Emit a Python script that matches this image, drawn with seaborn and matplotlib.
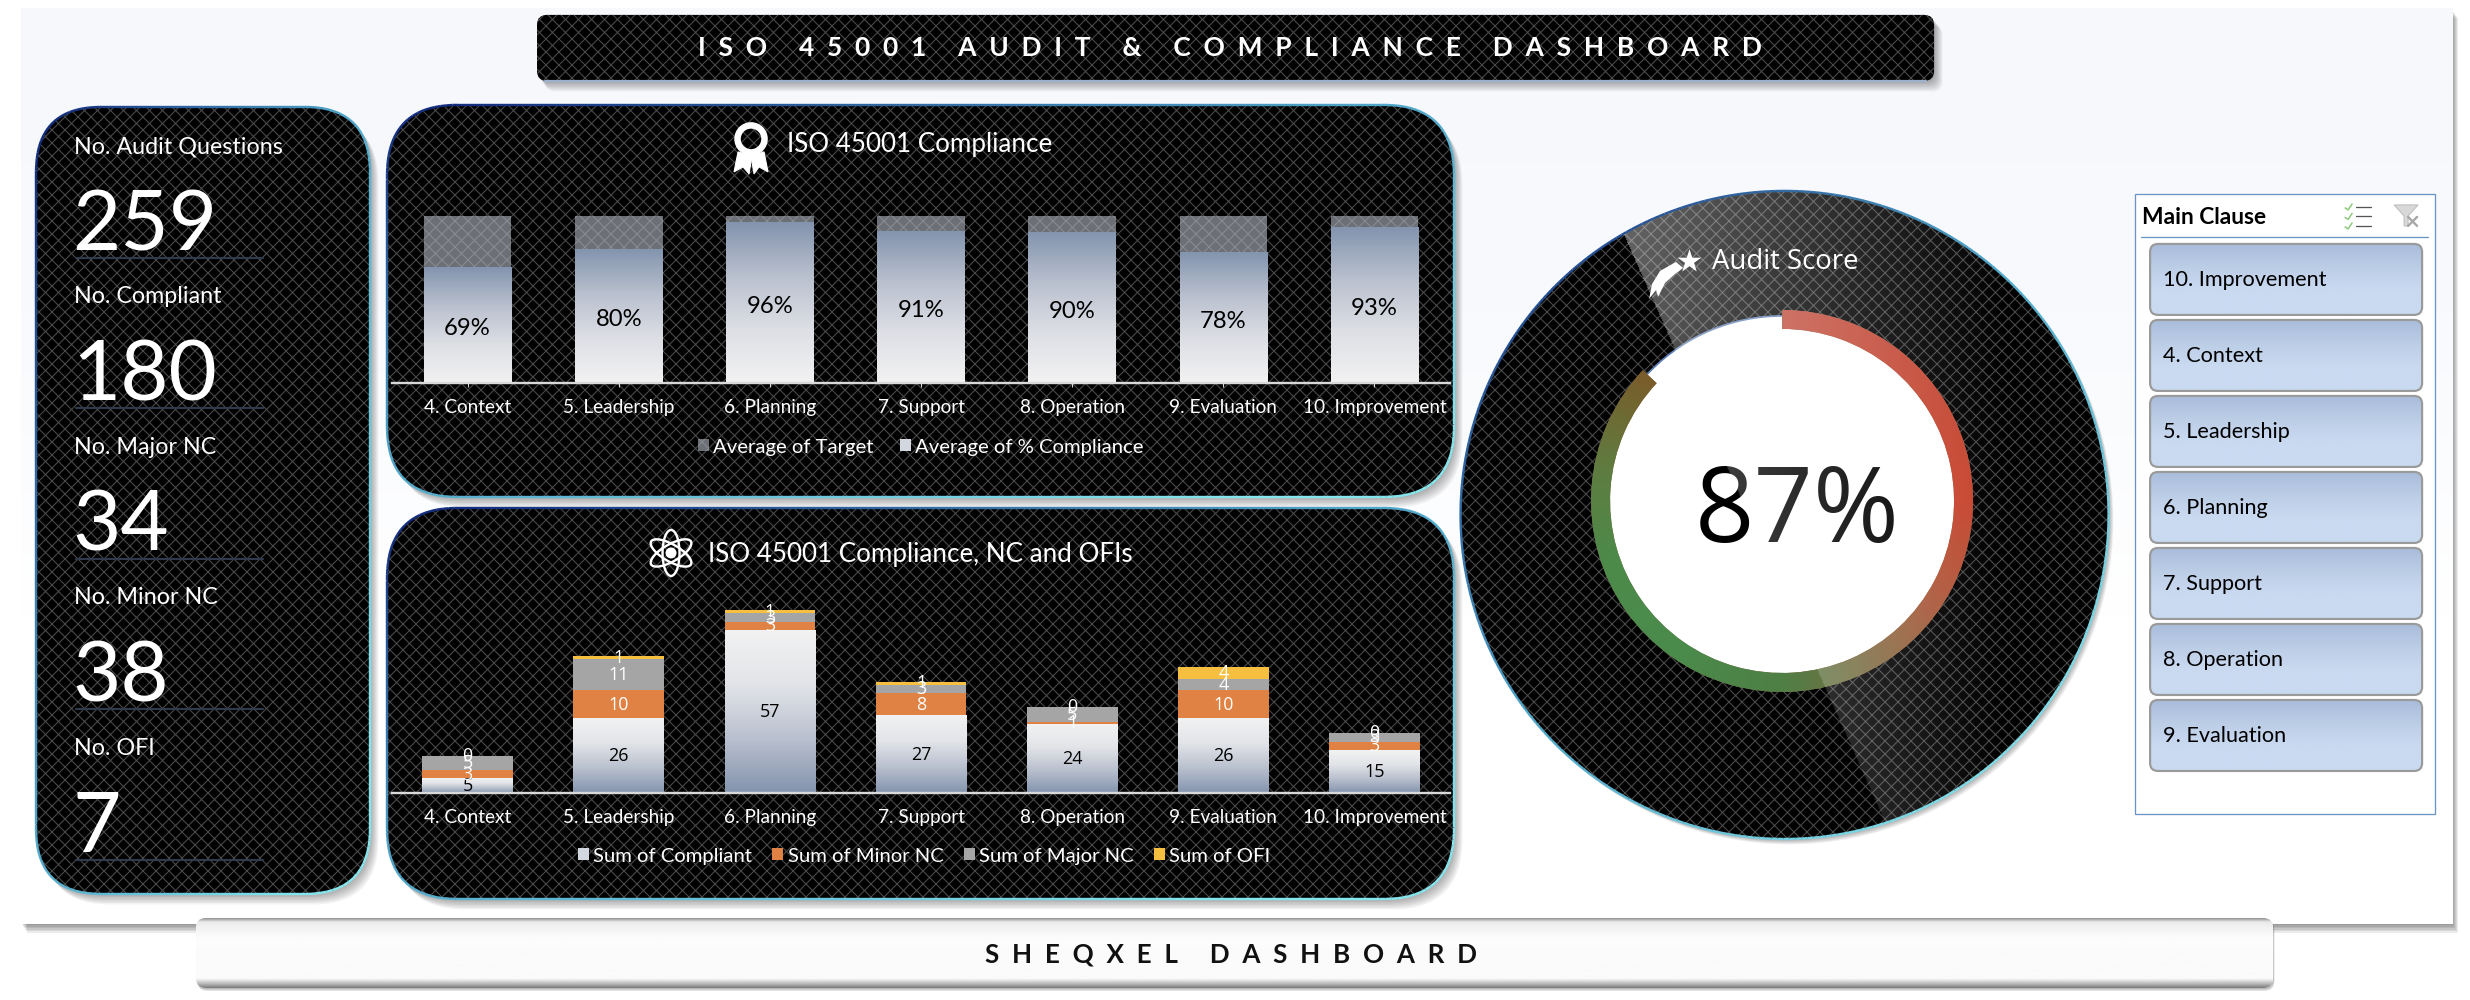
import numpy as np
import matplotlib
matplotlib.use("Agg")
import matplotlib.pyplot as plt
import seaborn as sns
from matplotlib.patches import FancyBboxPatch, Circle, Ellipse, Polygon, Rectangle
from matplotlib.collections import LineCollection
from matplotlib.colors import LinearSegmentedColormap, to_rgb

# ---------- data ----------
categories = ["4. Context", "5. Leadership", "6. Planning", "7. Support",
              "8. Operation", "9. Evaluation", "10. Improvement"]
target = [1, 1, 1, 1, 1, 1, 1]
pct_compliance = [0.69, 0.80, 0.96, 0.91, 0.90, 0.78, 0.93]
compliant = [5, 26, 57, 27, 24, 26, 15]
minor_nc = [3, 10, 3, 8, 1, 10, 3]
major_nc = [5, 11, 3, 3, 5, 4, 3]
ofi = [0, 1, 1, 1, 0, 4, 0]
kpi_labels = ["No. Audit Questions", "No. Compliant", "No. Major NC", "No. Minor NC", "No. OFI"]
kpi_values = ["259", "180", "34", "38", "7"]
slicer_items = ["10. Improvement", "4. Context", "5. Leadership", "6. Planning",
                "7. Support", "8. Operation", "9. Evaluation"]
audit_score = [87, 13]

W, H, DPI = 2470, 1000, 78
sns.set_theme(style="white")
plt.rcParams["font.family"] = ["Lato", "DejaVu Sans"]
plt.rcParams["hatch.linewidth"] = 1.0
HATCH = "#4A4A4A"

fig = plt.figure(figsize=((W + .1) / DPI, (H + .1) / DPI), dpi=DPI, facecolor="white")


def px_axes(x0, y0, x1, y1, z):
    ax = fig.add_axes([x0 / W, 1 - y1 / H, (x1 - x0) / W, (y1 - y0) / H], zorder=z)
    ax.patch.set_alpha(0)
    return ax


bg = px_axes(0, 0, W, H, 0)
bg.set_axis_off()


def vgrad(ax, x0, y0, x1, y1, cols, z, clip=None):
    cm = LinearSegmentedColormap.from_list("g", cols)
    im = ax.imshow(np.linspace(0, 1, 256)[:, None], extent=[x0, x1, y1, y0], origin="upper",
                   cmap=cm, aspect="auto", zorder=z, interpolation="bilinear")
    if clip is not None:
        im.set_clip_path(clip)
    return im


def shadow(make, n=7, dx=1.2, dy=1.5, a=0.05, z=1):
    for i in range(n):
        p = make((i + 1) * dx, (i + 1) * dy)
        p.set(fc="black", ec="none", alpha=a, zorder=z)
        bg.add_patch(p)


def edge_gradient(pts, x0, y0, w, h, z, lw=2.4):
    seg = np.hypot(*np.diff(pts, axis=0).T)
    s = np.r_[0, np.cumsum(seg)]
    t = np.r_[np.arange(0, s[-1], 6.0), s[-1]]
    px, py = np.interp(t, s, pts[:, 0]), np.interp(t, s, pts[:, 1])
    P = np.c_[px, py]
    segs = np.stack([P[:-1], P[1:]], axis=1)
    f = 0.55 * (px[:-1] - x0) / w + 0.55 * (py[:-1] - y0) / h
    c0, c1, c2 = np.array(to_rgb("#0E2478")), np.array(to_rgb("#4FA5C8")), np.array(to_rgb("#86E6EE"))
    cols = [c0 + (c1 - c0) * min(v / .5, 1) if v < .5 else c1 + (c2 - c1) * min((v - .5) / .5, 1) for v in f]
    bg.add_collection(LineCollection(segs, colors=cols, linewidths=lw * 72 / DPI, zorder=z))


def panel(x0, y0, x1, y1, r, border=True):
    w, h = x1 - x0, y1 - y0
    style = f"round,pad=0,rounding_size={r}"
    shadow(lambda dx, dy: FancyBboxPatch((x0 + dx, y0 + dy), w, h, boxstyle=style), z=2)
    p = FancyBboxPatch((x0, y0), w, h, boxstyle=style, fc="black", ec=HATCH, lw=0, hatch="xx", zorder=3)
    bg.add_patch(p)
    if border:
        poly = p.get_path().to_polygons(closed_only=True)[0]
        edge_gradient(poly, x0, y0, w, h, 4)
    return p


# ---------- page ----------
shadow(lambda dx, dy: Rectangle((21 + dx, 9 + dy), 2431, 915), n=6, dx=1, dy=1.5, a=.08, z=.5)
vgrad(bg, 21, 9, 2452, 924, ["#F6F8FC", "#F8FAFD", "#FFFFFF", "#FFFFFF"], 1)

# title bar
panel(537, 15, 1934, 81, 10, border=False)
bg.plot([545, 1926], [81.5, 81.5], color="#9DB0CC", lw=2, zorder=4)
bg.text(1230, 48, "  ".join("ISO") + "     " + "  ".join("45001") + "     " + "  ".join("AUDIT") + "     &     "
        + "  ".join("COMPLIANCE") + "     " + "  ".join("DASHBOARD"),
        color="white", fontsize=24.4, fontweight="bold", ha="center", va="center", zorder=6)

# bottom bar
shadow(lambda dx, dy: FancyBboxPatch((196 + dx, 918 + dy), 2077, 70, boxstyle="round,pad=0,rounding_size=10"),
       n=3, dx=.5, dy=1, a=.1, z=2)
bb = FancyBboxPatch((196, 918), 2077, 70, boxstyle="round,pad=0,rounding_size=10", fc="#F2F2F2", ec="none", zorder=3)
bg.add_patch(bb)
vgrad(bg, 196, 918, 2273, 988, ["#7A7A7A", "#E9E9E9", "#F2F2F2", "#F6F6F6", "#FBFBFB", "#FDFDFD", "#FDFDFD", "#FBFBFB",
                                "#FBFBFB", "#FBFBFB", "#FBFBFB", "#FBFBFB", "#FBFBFB", "#FBFBFB", "#C0C0C0", "#7A7A7A"], 3.1, clip=bb)
bg.text(1231, 954, "  ".join("SHEQXEL") + "     " + "  ".join("DASHBOARD"), color="#111111", fontsize=24,
        fontweight="bold", ha="center", va="center", zorder=6)

# ---------- KPI panel ----------
panel(36, 107, 370, 894, 65)
for i, (lab, val) in enumerate(zip(kpi_labels, kpi_values)):
    off = 150.4 * i
    bg.text(74, 146.5 + off, lab, color="white", fontsize=21.5, ha="left", va="center", zorder=6)
    bg.text(72, 250 + off, val, color="white", fontsize=77, ha="left", va="baseline", zorder=6)
    bg.plot([76, 263], [258 + off, 258 + off], color="#2F3A4D", lw=2, zorder=5)

# ---------- Chart panels ----------
panel(387, 105, 1454, 497, 70)
panel(387, 508, 1454, 899, 70)

# medal icon
bg.add_patch(Circle((751, 139), 13.5, fc="none", ec="white", lw=6, zorder=6))
bg.add_patch(Polygon([[738, 152], [734, 172], [743, 167], [749, 174], [752, 156]], fc="white", zorder=6))
bg.add_patch(Polygon([[764, 152], [768, 172], [759, 167], [754, 174], [751, 156]], fc="white", zorder=6))
bg.text(787, 144, "ISO 45001 Compliance", color="white", fontsize=24, ha="left", va="center", zorder=6)

# atom icon
for ang in (90, 30, 150):
    bg.add_patch(Ellipse((671, 553), 46, 17, angle=ang, fc="none", ec="white", lw=2.2, zorder=6))
bg.add_patch(Circle((671, 553), 5.5, fc="white", ec="none", zorder=6))
bg.text(708, 554, "ISO 45001 Compliance, NC and OFIs", color="white", fontsize=24, ha="left", va="center", zorder=6)


def style_chart(ax, ticklen):
    ax.set_yticks([])
    ax.set_xlabel("")
    ax.set_ylabel("")
    sns.despine(ax=ax, left=True)
    ax.spines["bottom"].set_color("#D9D9D9")
    ax.spines["bottom"].set_linewidth(2.2)
    ax.tick_params(axis="x", colors="#D9D9D9", length=ticklen, width=1, pad=15 - ticklen,
                   labelcolor="white", labelsize=17.6, bottom=True)
    ax.patch.set_alpha(0)


# chart 1
ax1 = px_axes(392, 216, 1450, 383, 1)
sns.barplot(x=categories, y=target, order=categories, color="#AFB4BF", saturation=1, alpha=.62, width=.58,
            errorbar=None, ax=ax1, label="Average of Target", linewidth=0)
sns.barplot(x=categories, y=pct_compliance, order=categories, color="#D3D7E0", saturation=1, width=.58,
            errorbar=None, ax=ax1, label="Average of % Compliance", linewidth=0)
c_target, c_pct = ax1.containers[0], ax1.containers[1]
for bar in c_pct:
    b = bar.get_bbox()
    vgrad(ax1, b.x0, b.y1, b.x1, b.y0, ["#8394AE", "#B9C0CE", "#DDDFE5", "#F2F2F2"], 1.5)
for t in ax1.bar_label(c_pct, labels=[f"{v:.0%}" for v in pct_compliance], label_type="center", color="black", fontsize=22):
    t.xyann = (0, -3)
ax1.set_xlim(-.5, 6.5)
ax1.set_ylim(0, 1)
style_chart(ax1, 4)
h, l = ax1.get_legend_handles_labels()
ax1.legend(h, l, loc="center", bbox_to_anchor=(921, 447), bbox_transform=bg.transData, ncol=2, frameon=False,
           labelcolor="white", fontsize=18.7, handlelength=.55, handleheight=.55, handletextpad=.2, columnspacing=1.3)

# chart 2
ax2 = px_axes(392, 579, 1450, 793, 1)
bottom = np.zeros(len(categories))
series = [("Sum of Compliant", compliant, "#D3D7E0", "black"), ("Sum of Minor NC", minor_nc, "#E08243", "white"),
          ("Sum of Major NC", major_nc, "#A5A5A5", "white"), ("Sum of OFI", ofi, "#F6BF3F", "white")]
for name, vals, col, tcol in series:
    sns.barplot(x=categories, y=vals, order=categories, bottom=bottom, color=col, saturation=1, width=.6,
                errorbar=None, ax=ax2, label=name, linewidth=0)
    cont = ax2.containers[-1]
    ax2.bar_label(cont, labels=[str(v) for v in vals], label_type="center", color=tcol, fontsize=16.5,
                  family="Open Sans", zorder=5)
    if name == "Sum of Compliant":
        for bar in cont:
            b = bar.get_bbox()
            vgrad(ax2, b.x0, b.y1, b.x1, b.y0, ["#F2F2F2", "#E2E4E8", "#B9C0CE", "#8394AE"], 1.5)
    bottom = bottom + np.array(vals)
ax2.set_xlim(-.5, 6.5)
ax2.set_ylim(0, 75)
style_chart(ax2, 0)
h, l = ax2.get_legend_handles_labels()
ax2.legend(h, l, loc="center", bbox_to_anchor=(924, 856), bbox_transform=bg.transData, ncol=4, frameon=False,
           labelcolor="white", fontsize=18.7, handlelength=.55, handleheight=.55, handletextpad=.2, columnspacing=1.0)

# ---------- donut ----------
shadow(lambda dx, dy: Circle((1784.5 + dx, 515 + dy), 324), n=6, dx=.8, dy=.9, a=.06, z=2)
outer = Circle((1784.5, 515), 324, fc="black", ec=HATCH, lw=0, hatch="xx", zorder=3)
bg.add_patch(outer)
ang = np.linspace(0, 2 * np.pi, 721)
edge_gradient(np.c_[1784.5 + 324 * np.cos(ang), 515 + 324 * np.sin(ang)], 1460, 191, 648, 648, 4)
bg.add_patch(Circle((1782, 501), 185, fc="white", ec="#5E7FB5", lw=1.6, zorder=5))
bg.text(1797, 542, "87%", color="black", fontsize=96, family="Open Sans", ha="center", va="baseline", zorder=6)

ax3 = px_axes(1591, 310, 1973, 692, 2)
wedges, _ = ax3.pie(audit_score, startangle=90, counterclock=False, radius=1,
                    colors=["#8A6A45", "none"], wedgeprops=dict(width=19 / 191, lw=0))
g = np.linspace(-1, 1, 500)
gx, gy = np.meshgrid(g, g)
theta = (np.arctan2(gx, gy) % (2 * np.pi)) / (2 * np.pi)
ring_cm = LinearSegmentedColormap.from_list("ring", [(0, "#C04C3C"), (.25, "#C8452F"), (.35, "#A95A3C"), (.42, "#7E6B42"),
                                                     (.5, "#4F7F45"), (.6, "#4A8C4C"), (.7, "#4D8A4A"), (.78, "#5F7C40"),
                                                     (.87, "#7A5C2A"), (1, "#7A5C2A")])
im = ax3.imshow(theta, extent=[-1, 1, -1, 1], origin="lower", cmap=ring_cm, vmin=0, vmax=1, zorder=3)
im.set_clip_path(wedges[0])
ax3.set_xlim(-1, 1)
ax3.set_ylim(-1, 1)
ax3.set_axis_off()

# glossy overlay
ov = px_axes(0, 0, W, H, 5)
ov.set_axis_off()
xs = np.arange(1460, 2110)
ys = np.arange(190, 840)
X, Y = np.meshgrid(xs, ys)
Xz, Yz = (X - 1450) * 2.306, (Y - 170) * 2.306
side = .914 * (Xz - 400) - .406 * (Yz - 150)
a = .40 * np.clip(1 - (Xz - 400) / 900, 0, 1) * (.8 + .2 * np.abs(Yz - 750) / 650)
a = np.where(side > 0, a, 0)
rgba = np.dstack([np.ones_like(a), np.ones_like(a), np.ones_like(a), a])
gl = ov.imshow(rgba, extent=[1460, 2110, 840, 190], origin="upper", aspect="auto", zorder=1)
gl.set_clip_path(Circle((1784.5, 515), 323, transform=ov.transData))

# star icon + title
ov.scatter([1689], [261], marker="*", s=520, c="white", linewidths=0, zorder=3)
ov.add_patch(Polygon([[1676, 262], [1660, 271], [1652, 284], [1649, 299], [1656, 290], [1658, 297], [1665, 283],
                      [1675, 274], [1683, 268]], fc="white", ec="none", zorder=3))
ov.text(1712, 262, "Audit Score", color="white", fontsize=25.4, family="Open Sans", ha="left", va="center", zorder=3)

# ---------- slicer ----------
bg.add_patch(Rectangle((2135, 194), 300, 620, fc="white", ec="#6B93C6", lw=1.2, zorder=3))
bg.text(2142, 217, "Main Clause", color="black", fontsize=21, fontweight="bold",
        ha="left", va="center", zorder=6)
bg.plot([2141, 2428], [237, 237], color="#6B93C6", lw=1.2, zorder=4)
for i, item in enumerate(slicer_items):
    y0 = 244 + 76 * i
    btn = FancyBboxPatch((2150, y0), 272, 71, boxstyle="round,pad=0,rounding_size=8", fc="none", ec="#9A9A9A", lw=2, zorder=5)
    bg.add_patch(btn)
    vgrad(bg, 2150, y0, 2422, y0 + 71, ["#A8BBDA", "#BCCDE6", "#C9DAF1", "#C9DAF1"], 4,
          clip=FancyBboxPatch((2150, y0), 272, 71, boxstyle="round,pad=0,rounding_size=8", transform=bg.transData))
    bg.text(2163, y0 + 36, item, color="black", fontsize=20, ha="left", va="center", zorder=6)
# slicer icons
for k in range(3):
    yy = 207 + 9.5 * k
    bg.plot([2345, 2348, 2352], [yy + 1, yy + 3, yy - 3], color="#8CC97A", lw=1.4, zorder=6)
    bg.plot([2356, 2371], [yy, yy], color="#555555", lw=1.2, zorder=6)
bg.add_patch(Polygon([[2394, 205], [2418, 205], [2408, 216], [2408, 226], [2404, 226], [2404, 216]],
                     fc="#D8D8D8", ec="#BFBFBF", lw=1, zorder=6))
bg.plot([2408, 2417], [217, 226], color="#A8A8A8", lw=2.2, zorder=7)
bg.plot([2417, 2408], [217, 226], color="#A8A8A8", lw=2.2, zorder=7)

for a_ in (bg, ov):
    a_.set_xlim(0, W)
    a_.set_ylim(H, 0)

fig.savefig("out.png", dpi=DPI, facecolor="white")
